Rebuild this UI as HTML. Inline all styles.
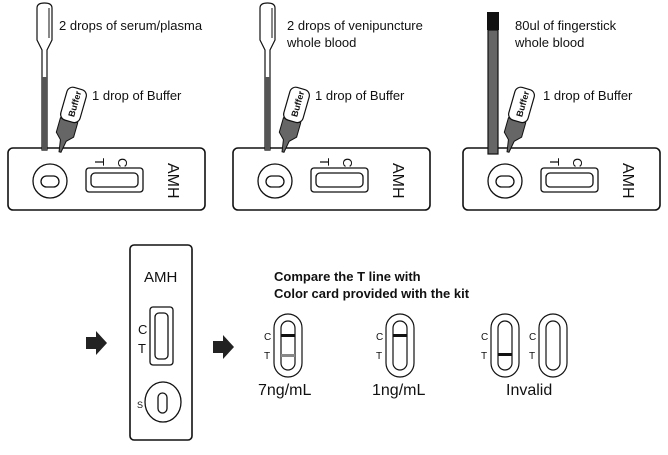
<!DOCTYPE html>
<html><head><style>body{margin:0;background:#fff}svg{display:block}text{font-family:"Liberation Sans",sans-serif;fill:#111}</style></head><body>
<svg width="668" height="455" viewBox="0 0 668 455" xmlns="http://www.w3.org/2000/svg">
<defs>
<g id="cas">
<rect x="0" y="0" width="197" height="62" rx="5" fill="#fff" stroke="#111" stroke-width="1.6"/>
<circle cx="42" cy="33" r="17" fill="none" stroke="#111" stroke-width="1.3"/>
<rect x="33" y="28" width="18" height="11" rx="5.5" fill="none" stroke="#111" stroke-width="1.3"/>
<rect x="78" y="20" width="57" height="24" rx="3" fill="none" stroke="#111" stroke-width="1.3"/>
<rect x="83" y="25" width="47" height="14" rx="4" fill="none" stroke="#111" stroke-width="1.3"/>
<text transform="translate(87,10) rotate(90)" font-size="13">T</text>
<text transform="translate(110,10) rotate(90)" font-size="13">C</text>
<text transform="translate(160,15) rotate(90)" font-size="16">AMH</text>
</g>
<g id="drop"><path d="M37,8 Q37,3 44.5,3 Q52,3 52,8 L52,40 L47,50 L47,150 L42,150 L42,50 L37,40 Z" fill="#fff" stroke="#111" stroke-width="1.2"/><path d="M49,8 L49,38" stroke="#111" stroke-width="1"/><rect x="42" y="77" width="5" height="73" fill="#555"/></g>
<g id="buf"><g transform="translate(60,152) rotate(16)"><path d="M-1,0 L1,0 L3,-12 L9,-18 L9,-33 L-9,-33 L-9,-18 L-3,-12 Z" fill="#666" stroke="#111" stroke-width="1"/><rect x="-10" y="-66" width="20" height="34" rx="6" fill="#fff" stroke="#111" stroke-width="1.2"/><text transform="translate(4,-37) rotate(-90)" font-size="9" font-weight="bold">Buffer</text></g></g>
</defs>
<use href="#cas" x="8" y="148"/>
<use href="#drop"/>
<use href="#buf"/>
<text x="59" y="30" font-size="13">2 drops of serum/plasma</text>
<text x="92" y="100" font-size="13">1 drop of Buffer</text>
<use href="#cas" x="233" y="148"/>
<use href="#drop" x="223"/>
<use href="#buf" x="223"/>
<text x="287" y="30" font-size="13">2 drops of venipuncture</text>
<text x="287" y="47" font-size="13">whole blood</text>
<text x="315" y="100" font-size="13">1 drop of Buffer</text>
<use href="#cas" x="463" y="148"/>
<rect x="488" y="30" width="10" height="124" fill="#666" stroke="#111" stroke-width="1.2"/>
<rect x="487" y="12" width="12" height="18" fill="#111"/>
<use href="#buf" x="448"/>
<text x="515" y="30" font-size="13">80ul of fingerstick</text>
<text x="515" y="47" font-size="13">whole blood</text>
<text x="543" y="100" font-size="13">1 drop of Buffer</text>
<path d="M86,337 L96,337 L96,331 L107,343 L96,355 L96,349 L86,349 Z" fill="#222"/>
<path d="M213,341 L223,341 L223,335 L234,347 L223,359 L223,353 L213,353 Z" fill="#222"/>
<rect x="130" y="245" width="62" height="195" rx="4" fill="#fff" stroke="#111" stroke-width="1.6"/>
<text x="144" y="282" font-size="15">AMH</text>
<rect x="150" y="307" width="23" height="58" rx="3" fill="none" stroke="#111" stroke-width="1.3"/>
<rect x="155" y="313" width="13" height="46" rx="4" fill="none" stroke="#111" stroke-width="1.3"/>
<text x="138" y="334" font-size="13">C</text>
<text x="138" y="353" font-size="13">T</text>
<ellipse cx="163" cy="402" rx="18" ry="20" fill="none" stroke="#111" stroke-width="1.3"/>
<rect x="158" y="393" width="9" height="20" rx="4.5" fill="none" stroke="#111" stroke-width="1.3"/>
<text x="137" y="408" font-size="9">S</text>
<text x="274" y="281" font-size="13" font-weight="bold">Compare the T line with</text>
<text x="274" y="298" font-size="13" font-weight="bold">Color card provided with the kit</text>
<g fill="none" stroke="#111" stroke-width="1.2">
<rect x="274" y="314" width="28" height="63" rx="14"/><rect x="281" y="321" width="14" height="49" rx="7"/>
<rect x="386" y="314" width="28" height="63" rx="14"/><rect x="393" y="321" width="14" height="49" rx="7"/>
<rect x="491" y="314" width="28" height="63" rx="14"/><rect x="498" y="321" width="14" height="49" rx="7"/>
<rect x="539" y="314" width="28" height="63" rx="14"/><rect x="546" y="321" width="14" height="49" rx="7"/>
</g>
<rect x="281" y="334" width="14" height="3" fill="#111"/>
<rect x="281" y="354" width="14" height="3" fill="#888"/>
<rect x="393" y="334" width="14" height="3" fill="#111"/>
<rect x="498" y="353" width="14" height="3" fill="#111"/>
<g font-size="10"><text x="264" y="340">C</text><text x="264" y="359">T</text><text x="376" y="340">C</text><text x="376" y="359">T</text><text x="481" y="340">C</text><text x="481" y="359">T</text><text x="529" y="340">C</text><text x="529" y="359">T</text></g>
<text x="258" y="395" font-size="16">7ng/mL</text>
<text x="372" y="395" font-size="16">1ng/mL</text>
<text x="506" y="395" font-size="16">Invalid</text>
</svg>
</body></html>
